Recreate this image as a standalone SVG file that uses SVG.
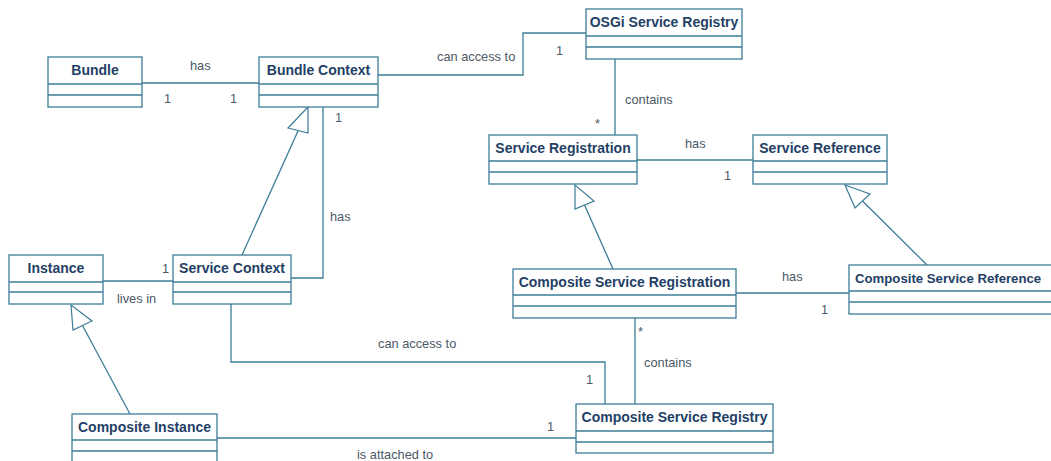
<svg xmlns="http://www.w3.org/2000/svg" width="1051" height="461" viewBox="0 0 1051 461">
<style>
.box{fill:#fff;stroke:#3c7d97;stroke-width:1.3}
.sep{stroke:#3c7d97;stroke-width:1.3}
.t{font-family:"Liberation Sans",Arial,sans-serif;font-weight:bold;font-size:14px;fill:#243f66;text-anchor:middle}
.c{fill:none;stroke:#3c7d97;stroke-width:1.3}
.g{fill:#fff;stroke:#3c7d97;stroke-width:1.2}
.l{font-family:"Liberation Sans",Arial,sans-serif;font-size:12.8px;fill:#4b5866}
</style>
<rect width="1051" height="461" fill="#fff"/>
<g id="connectors">
<path class="c" d="M142,83H259"/>
<path class="c" d="M378,75H523V33H586"/>
<path class="c" d="M615,59V135"/>
<path class="c" d="M637,160H753"/>
<path class="c" d="M291,278H323V107"/>
<path class="c" d="M242,255L298,131"/>
<polygon class="g" points="308,107 288,128 308,133"/>
<path class="c" d="M103,281H173"/>
<path class="c" d="M130,414L82.5,325.5"/>
<polygon class="g" points="71,305 73,330 92,321"/>
<path class="c" d="M613,269L584.5,205"/>
<polygon class="g" points="575,185 575,209 594,201"/>
<path class="c" d="M927,265L862.5,201"/>
<polygon class="g" points="845,185 855,208 870,194"/>
<path class="c" d="M736,293H849"/>
<path class="c" d="M635,318V404"/>
<path class="c" d="M231,304V362H605V404"/>
<path class="c" d="M217,438H576"/>
<text class="l" x="190" y="70">has</text>
<text class="l" x="164" y="103">1</text>
<text class="l" x="230" y="103">1</text>
<text class="l" x="437" y="61">can access to</text>
<text class="l" x="556" y="55">1</text>
<text class="l" x="625" y="104">contains</text>
<text class="l" x="595" y="128">*</text>
<text class="l" x="685" y="148">has</text>
<text class="l" x="724" y="180">1</text>
<text class="l" x="330" y="221">has</text>
<text class="l" x="335" y="122">1</text>
<text class="l" x="162" y="273">1</text>
<text class="l" x="117" y="303">lives in</text>
<text class="l" x="782" y="281">has</text>
<text class="l" x="821" y="314">1</text>
<text class="l" x="638" y="336">*</text>
<text class="l" x="644" y="367">contains</text>
<text class="l" x="378" y="348">can access to</text>
<text class="l" x="586" y="384">1</text>
<text class="l" x="547" y="431">1</text>
<text class="l" x="357" y="459">is attached to</text>
</g>
<g id="bundle"><rect class="box" x="48" y="57" width="94" height="50"/><path class="sep" d="M48,84H142M48,95H142"/><text class="t" x="95" y="75">Bundle</text></g>
<g id="bundle-context"><rect class="box" x="259" y="57" width="119" height="50"/><path class="sep" d="M259,84H378M259,95H378"/><text class="t" x="318.5" y="75">Bundle Context</text></g>
<g id="osgi-service-registry"><rect class="box" x="586" y="9" width="156" height="50"/><path class="sep" d="M586,36H742M586,47H742"/><text class="t" x="664" y="27">OSGi Service Registry</text></g>
<g id="service-registration"><rect class="box" x="489" y="135" width="148" height="49"/><path class="sep" d="M489,161H637M489,172H637"/><text class="t" x="563" y="153">Service Registration</text></g>
<g id="service-reference"><rect class="box" x="753" y="135" width="134" height="49"/><path class="sep" d="M753,161H887M753,172H887"/><text class="t" x="820" y="153">Service Reference</text></g>
<g id="instance"><rect class="box" x="9" y="255" width="94" height="49"/><path class="sep" d="M9,282H103M9,292H103"/><text class="t" x="56" y="273">Instance</text></g>
<g id="service-context"><rect class="box" x="173" y="255" width="118" height="49"/><path class="sep" d="M173,282H291M173,292H291"/><text class="t" x="232" y="273">Service Context</text></g>
<g id="composite-service-registration"><rect class="box" x="513" y="269" width="223" height="49"/><path class="sep" d="M513,295H736M513,306H736"/><text class="t" x="624.5" y="287">Composite Service Registration</text></g>
<g id="composite-service-reference"><rect class="box" x="849" y="265" width="215" height="49"/><path class="sep" d="M849,291H1064M849,302H1064"/><text class="t" x="855" y="283" style="text-anchor:start;font-size:13.2px">Composite Service Reference</text></g>
<g id="composite-service-registry"><rect class="box" x="576" y="404" width="197" height="49"/><path class="sep" d="M576,431H773M576,442H773"/><text class="t" x="674.5" y="422">Composite Service Registry</text></g>
<g id="composite-instance"><rect class="box" x="72" y="414" width="145" height="50"/><path class="sep" d="M72,440H217M72,451H217"/><text class="t" x="144.5" y="432">Composite Instance</text></g>
</svg>
